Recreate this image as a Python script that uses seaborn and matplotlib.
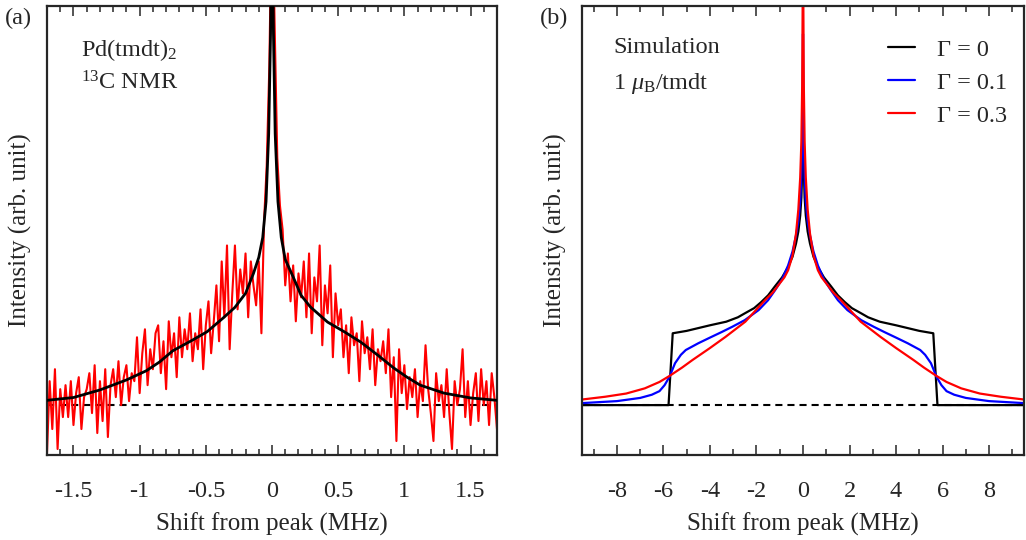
"""
13C NMR spectrum of Pd(tmdt)2 (a) and simulated line shapes (b)
Output: out.png
"""

import numpy as np
import pandas as pd
import matplotlib.pyplot as plt
import seaborn as sns
from matplotlib.ticker import MultipleLocator
from matplotlib.lines import Line2D

# ── data (intensity: 0 = baseline, 100 = top of frame) ───────────────────────
# (a) measured spectrum, sampled every 0.02 MHz from -1.70 to 1.70
nmr_shift = np.round(np.arange(-1.70, 1.7001, 0.02), 2)
nmr_int = [
    -12, 6, -6, 9, -11, 4, -3,
    5, -3, 6, -5, 3, 7, -6, 2, 4,
    8, -2, 10, -7, 6, -4, 9, -8, 5,
    9, 2, 11, 0, 7, 10, 1, 8,
    6, 17, 3, 13, 19, 5, 14, 9, 18,
    20, 8, 16, 4, 21, 12, 18, 7,
    22, 12, 19, 14, 23, 11, 18,
    14, 24, 9, 20, 26, 13, 21,
    30, 16, 36, 22, 40, 14, 28,
    40, 24, 34, 28, 38, 22, 36, 30, 25,
    36, 18, 46, 60, 85,
    130,
    95, 62, 50, 44,
    30, 38, 26, 35, 21, 33, 27, 36,
    22, 38, 18, 32, 26, 40, 15, 30, 23, 35, 12, 28, 20,
    24, 12, 20, 8, 22, 15, 18, 6, 21, 13, 17, 9, 19, 5, 14, 11, 16,
    8, 19, 2, 12, -9, 14, 3, 10, -1, 7,
    2, 9, -3, 6, 1, 15, 4, -2, -9, 8, 1, 5, -3, 9,
    -2, -11, 6, 0, 4, 14, -3, 6, -5, 3, 8, -4, 9, 0, 6, -5, 8, 2, -6,
]

# (a) fitted curve
fit_shift = [-1.70, -1.50, -1.30, -1.10, -0.95, -0.85, -0.75, -0.60, -0.49,
             -0.37, -0.28, -0.20, -0.14, -0.10, -0.07, -0.045, -0.025, -0.011,
             0.0, 0.011, 0.024, 0.045, 0.07, 0.10, 0.16, 0.22, 0.29, 0.42,
             0.55, 0.67, 0.80, 0.92, 1.02, 1.12, 1.30, 1.50, 1.70]
fit_int = [1.2, 1.9, 3.8, 6.3, 8.6, 10.8, 13.6, 16.3, 18.4,
           21.8, 24.5, 28.0, 33.0, 37.0, 42.0, 51, 68, 93,
           130, 93, 68, 51, 42, 36.5, 32.1, 27.5, 24.6, 20.8,
           18.3, 15.8, 12.5, 9.3, 7.0, 5.0, 3.0, 1.8, 1.2]

# (b) simulations
g0_shift = [-9.5, -6.5, -5.78, -5.6, -5.0, -4.5, -4.0, -3.3, -2.8, -2.5,
            -2.1, -1.8, -1.5, -1.2, -0.9, -0.64, -0.45, -0.3, -0.2, -0.12,
            -0.07, -0.035, -0.015, 0.0, 0.015, 0.035, 0.07, 0.12, 0.2, 0.3,
            0.45, 0.64, 0.9, 1.2, 1.5, 1.8, 2.1, 2.5, 2.8, 3.3,
            4.0, 4.5, 5.0, 5.6, 5.78, 6.5, 9.5]
g0_int = [0, 0, 0, 18.0, 18.6, 19.3, 20.0, 20.9, 22.0, 23.0,
          24.3, 25.8, 27.5, 29.8, 32.0, 34.6, 37.2, 40.5, 43.5, 47.5,
          52.0, 59.0, 67.0, 77.0, 67.0, 59.0, 52.0, 47.5, 43.5, 40.5,
          37.2, 34.6, 32.0, 29.8, 27.5, 25.8, 24.3, 23.0, 22.0, 20.9,
          20.0, 19.3, 18.6, 18.0, 0, 0, 0]

g1_shift = [-9.5, -8.0, -7.0, -6.5, -6.17, -5.95, -5.74, -5.5, -5.25, -5.04,
            -4.5, -4.04, -3.5, -3.05, -2.5, -1.91, -1.5, -1.2, -0.9, -0.64,
            -0.45, -0.3, -0.2, -0.12, -0.07, -0.035, -0.015, 0.0, 0.015, 0.035,
            0.07, 0.12, 0.2, 0.3, 0.45, 0.64, 0.9, 1.2, 1.5, 1.91,
            2.5, 3.05, 3.5, 4.04, 4.5, 5.04, 5.25, 5.5, 5.74, 5.95,
            6.17, 6.5, 7.0, 8.0, 9.5]
g1_int = [0.5, 1.0, 1.8, 2.6, 3.5, 5.0, 7.1, 10.5, 12.6, 13.8,
          15.5, 16.8, 18.3, 19.6, 21.3, 23.8, 26.3, 28.8, 31.5, 35.0,
          38.5, 42.5, 46.0, 51.0, 57.0, 66.0, 78.0, 93.0, 78.0, 66.0,
          57.0, 51.0, 46.0, 42.5, 38.5, 35.0, 31.5, 28.8, 26.3, 23.8,
          21.3, 19.6, 18.3, 16.8, 15.5, 13.8, 12.6, 10.5, 7.1, 5.0,
          3.5, 2.6, 1.8, 1.0, 0.5]

g3_shift = [-9.5, -8.5, -7.6, -6.8, -6.17, -5.74, -5.2, -4.75, -4.0, -3.33,
            -2.48, -1.63, -1.3, -1.0, -0.8, -0.64, -0.45, -0.3, -0.2, -0.12,
            -0.07, -0.035, -0.015, 0.0, 0.015, 0.035, 0.07, 0.12, 0.2, 0.3,
            0.45, 0.64, 0.8, 1.0, 1.3, 1.63, 2.48, 3.33, 4.0, 4.75,
            5.2, 5.74, 6.17, 6.8, 7.6, 8.5, 9.5]
g3_int = [1.4, 2.1, 2.9, 4.2, 5.8, 7.3, 9.4, 11.3, 14.3, 17.1,
          20.9, 26.3, 28.2, 30.5, 32.0, 33.8, 37.5, 43.0, 49.0, 57.0,
          66.0, 80.0, 100.0, 140.0, 100.0, 80.0, 66.0, 57.0, 49.0, 43.0,
          37.5, 33.8, 32.0, 30.5, 28.2, 26.3, 20.9, 17.1, 14.3, 11.3,
          9.4, 7.3, 5.8, 4.2, 2.9, 2.1, 1.4]

gamma_labels = ["Γ = 0", "Γ = 0.1", "Γ = 0.3"]
gamma_colors = ["black", "#0000ff", "#ff0000"]

# ── style ────────────────────────────────────────────────────────────────────
sns.set_style("ticks")
plt.rcParams["font.family"] = ["Liberation Serif", "DejaVu Serif"]
plt.rcParams["mathtext.fontset"] = "custom"
plt.rcParams["mathtext.rm"] = "Liberation Serif"
plt.rcParams["mathtext.it"] = "Liberation Serif:italic"
plt.rcParams["mathtext.default"] = "regular"
plt.rcParams["axes.unicode_minus"] = False

FS = 17.5
fig = plt.figure(figsize=(10.26, 5.4), dpi=100)
ax_a = fig.add_axes([47 / 1026, 85 / 540, 450 / 1026, 449 / 540])
ax_b = fig.add_axes([582 / 1026, 85 / 540, 442 / 1026, 449 / 540])


def style_axes(ax, major, minor, xlim):
    ax.set_xlim(*xlim)
    ax.set_ylim(-12.5, 100)
    ax.xaxis.set_major_locator(MultipleLocator(major))
    ax.xaxis.set_minor_locator(MultipleLocator(minor))
    ax.tick_params(axis="x", which="both", direction="in", top=True, bottom=True,
                   width=1.1, labelsize=FS, pad=19)
    ax.tick_params(axis="x", which="major", length=7)
    ax.tick_params(axis="x", which="minor", length=4)
    ax.set_yticks([])
    for s in ax.spines.values():
        s.set_linewidth(1.6)
        s.set_visible(True)
    ax.set_xlabel("Shift from peak (MHz)", fontsize=FS + 0.5, labelpad=7)
    ax.set_ylabel("Intensity (arb. unit)", fontsize=FS + 0.5, labelpad=11)
    ax.axhline(0, color="black", lw=1.5, ls=(0, (3.4, 2.4)), zorder=1)


# ── (a) measurement ──────────────────────────────────────────────────────────
sns.lineplot(x=nmr_shift, y=nmr_int, color="#ff0000", lw=1.5, ax=ax_a, zorder=2)
sns.lineplot(x=fit_shift, y=fit_int, color="black", lw=2.0, ax=ax_a, zorder=3)
style_axes(ax_a, 0.5, 0.1, (-1.7, 1.7))
ax_a.set_xticks([-1.5, -1, -0.5, 0, 0.5, 1, 1.5])
ax_a.set_xticklabels(["-1.5", "-1", "-0.5", "0", "0.5", "1", "1.5"])
ax_a.text(0.075, 0.93, "Pd(tmdt)$_2$", transform=ax_a.transAxes, fontsize=FS, va="top")
ax_a.text(0.075, 0.855, "$^{13}$C NMR", transform=ax_a.transAxes, fontsize=FS, va="top")
fig.text(5 / 1026, 1 - 18 / 540, "(a)", fontsize=FS, va="center")

# ── (b) simulation ───────────────────────────────────────────────────────────
sim = pd.concat([
    pd.DataFrame({"shift": g0_shift, "intensity": g0_int, "gamma": gamma_labels[0]}),
    pd.DataFrame({"shift": g1_shift, "intensity": g1_int, "gamma": gamma_labels[1]}),
    pd.DataFrame({"shift": g3_shift, "intensity": g3_int, "gamma": gamma_labels[2]}),
])
sns.lineplot(data=sim, x="shift", y="intensity", hue="gamma", hue_order=gamma_labels,
             palette=gamma_colors, lw=1.6, ax=ax_b, legend=False, zorder=2)
style_axes(ax_b, 2, 1, (-9.5, 9.5))
ax_b.set_xticks([-8, -6, -4, -2, 0, 2, 4, 6, 8])
ax_b.text(0.07, 0.93, "Simulation", transform=ax_b.transAxes, fontsize=FS, va="top")
ax_b.text(0.07, 0.855, "1 $\\mathit{\\mu}_\\mathrm{B}$/tmdt", transform=ax_b.transAxes,
          fontsize=FS, va="top")
fig.text(540 / 1026, 1 - 18 / 540, "(b)", fontsize=FS, va="center")

handles = [Line2D([], [], color=c, lw=1.6) for c in gamma_colors]
ax_b.legend(handles, gamma_labels, loc="upper right", bbox_to_anchor=(1.0, 0.965),
            frameon=False, fontsize=FS, handlelength=1.1, handletextpad=0.9,
            labelspacing=0.45, borderaxespad=0.3)

plt.savefig("out.png", dpi=100)
plt.close()
